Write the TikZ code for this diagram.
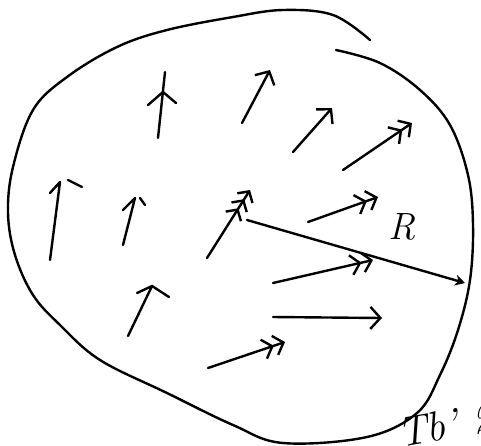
\documentclass[tikz,border=0pt]{standalone}
\usepackage{fontspec}
\usetikzlibrary{arrows.meta}
\begin{document}
\begin{tikzpicture}[x=1pt, y=-1pt, line cap=round, line join=round,
		ink/.style={line width=2.4pt},
		vec/.style={ink, -{Straight Barb[length=10pt,width=22pt]}},
		vecc/.style={ink, -{Straight Barb[length=9pt,width=20pt] Straight Barb[length=9pt,width=20pt]}},
		veccc/.style={ink, -{Straight Barb[length=8pt,width=18pt] Straight Barb[length=8pt,width=18pt] Straight Barb[length=8pt,width=18pt]}}]
	
	\useasboundingbox (0,0) rectangle (481,445);
	
	% outline of the region
	\draw[ink] plot[smooth, tension=0.6] coordinates {(336,50) (380,63) (420,90) (450,125) (468,175) (473,225) (470,280) (458,330) (440,375) (417,413) (367,437) (283,443) (233,425) (167,393) (100,360) (60,325) (33,295) (15,255) (8,213) (13,167) (33,110) (67,77) (117,47) (167,30) (233,17) (283,10) (333,15) (370,40)};
	
	% field arrows
	\draw[ink] (158,138) -- (165,72);
	\draw[ink] (148,105) -- (163,92) -- (176,103);
	\draw[vec] (242,123) -- (270,70);
	\draw[vec] (293,152) -- (332,108);
	\draw[vecc] (343,170) -- (412,123);
	\draw[ink] (50,260) -- (60,182) -- (50,193);
	\draw[ink] (68,180) -- (82,187);
	\draw[ink] (123,245) -- (135,198) -- (123,210);
	\draw[ink] (140,198) -- (145,205);
	\draw[veccc] (207,258) -- (250,190);
	\draw[vecc] (308,222) -- (378,197);
	\draw[vecc] (273,283) -- (373,260);
	\draw[vec] (273,317) -- (382,318);
	\draw[ink] (128,336) -- (152,286);
	\draw[ink] (137,293) -- (152,286) -- (169,297);
	\draw[vecc] (208,368) -- (285,342);
	
	% radius
	\coordinate (centre) at (247,220);
	\coordinate (rim) at (465,283);
	\draw[ink, -{Stealth[length=10pt,width=11pt]}] (centre) -- (rim);
	\node (rlabel) at (402,227) {\fontsize{38}{38}\selectfont\itshape R};
	
	\node[anchor=south west, inner sep=0pt, rotate=10] (caption) at (400,449) {\fontsize{42}{42}\selectfont\itshape Tb' 2};
\end{tikzpicture}
\end{document}
